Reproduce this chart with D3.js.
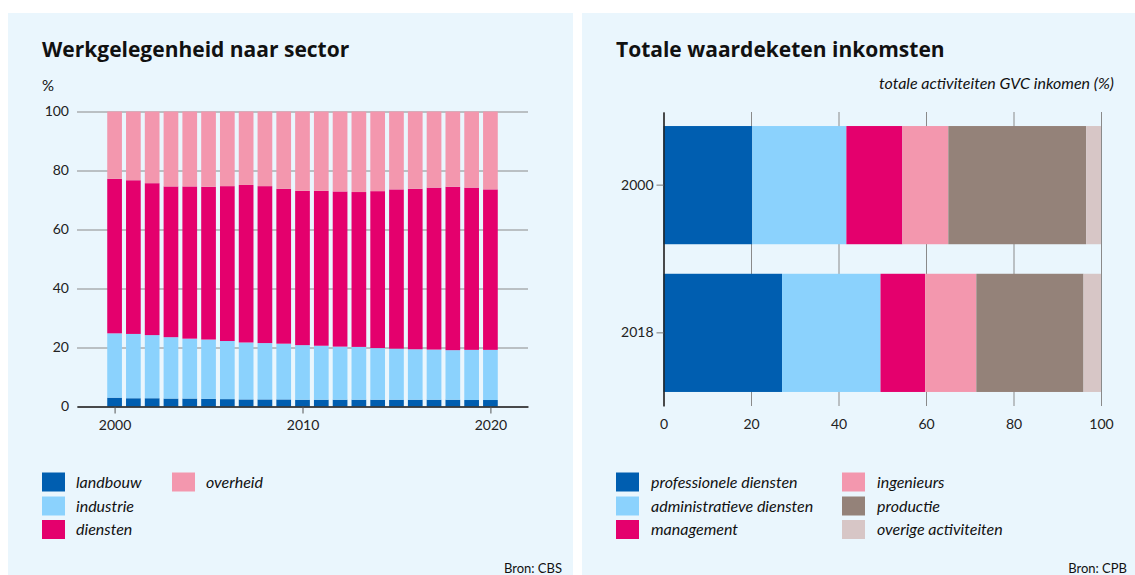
<!DOCTYPE html>
<html><head><meta charset="utf-8">
<script src="https://cdn.jsdelivr.net/npm/d3@7"></script>
<style>
body{margin:0;background:#fff;}
svg{display:block;font-family:Lato,"Open Sans",sans-serif;}
</style></head><body>
<svg id="c" width="1135" height="575"></svg>
<script>
// ---------- Data: left chart ----------
const years = [2000,2001,2002,2003,2004,2005,2006,2007,2008,2009,2010,2011,2012,2013,2014,2015,2016,2017,2018,2019,2020];
const landbouw  = [3.0,2.8,2.8,2.7,2.7,2.6,2.5,2.4,2.4,2.4,2.3,2.3,2.3,2.3,2.3,2.3,2.3,2.3,2.3,2.2,2.2];
const industrie = [21.8,21.8,21.4,20.8,20.3,20.1,19.7,19.3,19.1,18.9,18.5,18.3,18.0,17.9,17.5,17.3,17.1,17.0,16.8,17.0,17.0];
const diensten  = [52.4,52.1,51.5,51.1,51.6,51.8,52.5,53.4,53.2,52.5,52.3,52.5,52.6,52.5,53.2,54.0,54.4,54.9,55.4,55.0,54.4];
const overheid  = [22.8,23.3,24.3,25.4,25.4,25.5,25.3,24.9,25.3,26.2,26.9,26.9,27.1,27.3,27.0,26.4,26.2,25.8,25.5,25.8,26.4];
const sectorKeys = ["landbouw","industrie","diensten","overheid"];
const sectorColors = ["#005eb0","#8bd2fd","#e4006d","#f397ae"];
const yTicksLeft = [0,20,40,60,80,100];
const xTicksLeft = [2000,2010,2020];

// ---------- Data: right chart ----------
const gvcYears = ["2000","2018"];
const professioneleDiensten   = [20.3,27.1];
const administratieveDiensten = [21.5,22.5];
const management              = [12.8,10.2];
const ingenieurs              = [10.5,11.7];
const productie               = [31.5,24.5];
const overigeActiviteiten     = [3.4,4.0];
const gvcKeys = ["professionele diensten","administratieve diensten","management","ingenieurs","productie","overige activiteiten"];
const gvcColors = ["#005eb0","#8bd2fd","#e4006d","#f397ae","#948279","#d7c6c6"];
const xTicksRight = [0,20,40,60,80,100];

const svg = d3.select("#c");
const bg = "#eaf6fd";
svg.append("rect").attr("x",8).attr("y",13).attr("width",565).attr("height",562).attr("fill",bg);
svg.append("rect").attr("x",582).attr("y",13).attr("width",553).attr("height",562).attr("fill",bg);

const titleFont = "'Open Sans',Lato,sans-serif";

// ================= LEFT CHART =================
const L = svg.append("g");
L.append("text").attr("x",42).attr("y",57).attr("font-size",21).attr("font-weight",700).attr("font-family",titleFont).attr("fill","#111").text("Werkgelegenheid naar sector");
L.append("text").attr("x",42).attr("y",91).attr("font-size",15).attr("fill","#111").text("%");

const x1 = d3.scaleLinear().domain([1998,2022]).range([77,528]);
const y1 = d3.scaleLinear().domain([0,100]).range([406.5,111.5]);

const yAx = L.append("g").attr("transform","translate(77,0)")
  .call(d3.axisLeft(y1).tickValues(yTicksLeft).tickSize(-(528-77)).tickPadding(8));
yAx.select(".domain").remove();
yAx.selectAll("line").attr("stroke","#8a8a8a").attr("stroke-width",1);
yAx.selectAll("text").attr("font-size",14).attr("fill","#222").attr("font-family","Lato,sans-serif");

const rows = years.map((yr,i)=>({year:yr,landbouw:landbouw[i],industrie:industrie[i],diensten:diensten[i],overheid:overheid[i]}));
const stack1 = d3.stack().keys(sectorKeys)(rows);
const bw = 14.7;
L.append("g").selectAll("g").data(stack1).join("g")
  .attr("fill",(d,i)=>sectorColors[i])
  .selectAll("rect").data(d=>d).join("rect")
  .attr("x",d=>x1(d.data.year)-bw/2)
  .attr("width",bw)
  .attr("y",d=>y1(d[1]))
  .attr("height",d=>y1(d[0])-y1(d[1]));

const xAx = L.append("g").attr("transform","translate(0,406.5)")
  .call(d3.axisBottom(x1).tickValues(xTicksLeft).tickFormat(d3.format("d")).tickSizeInner(7).tickSizeOuter(0).tickPadding(7));
xAx.select(".domain").attr("stroke","#222").attr("stroke-width",1.5);
xAx.selectAll(".tick line").attr("stroke","#555");
xAx.selectAll("text").attr("font-size",14).attr("fill","#222").attr("font-family","Lato,sans-serif");

// legend left
const legL = L.append("g");
const legLPos = [[42,472.5],[42,496.5],[42,520],[172,472.5]];
sectorKeys.forEach((k,i)=>{
  const [lx,ly] = legLPos[i];
  legL.append("rect").attr("x",lx).attr("y",ly).attr("width",23).attr("height",19).attr("fill",sectorColors[i]);
  legL.append("text").attr("x",lx+34).attr("y",ly+15).attr("font-size",16).attr("font-style","italic").attr("fill","#111").text(k);
});
L.append("text").attr("x",562).attr("y",573).attr("text-anchor","end").attr("font-size",13).attr("fill","#111").text("Bron: CBS");

// ================= RIGHT CHART =================
const R = svg.append("g");
R.append("text").attr("x",616).attr("y",57).attr("font-size",21).attr("font-weight",700).attr("font-family",titleFont).attr("fill","#111").text("Totale waardeketen inkomsten");
R.append("text").attr("x",1114).attr("y",89).attr("text-anchor","end").attr("font-size",16).attr("font-style","italic").attr("fill","#111").text("totale activiteiten GVC inkomen (%)");

const x2 = d3.scaleLinear().domain([0,100]).range([663.5,1101]);
const y2 = d3.scaleBand().domain(gvcYears).range([112,406]).paddingInner(0.2).paddingOuter(0.095);

const xAx2 = R.append("g").attr("transform","translate(0,406)")
  .call(d3.axisBottom(x2).tickValues(xTicksRight).tickSizeInner(-(406-112)).tickSizeOuter(0).tickPadding(13));
xAx2.select(".domain").remove();
xAx2.selectAll(".tick line").attr("stroke","#8a8a8a");
xAx2.selectAll("text").attr("font-size",14).attr("fill","#222").attr("font-family","Lato,sans-serif");

const gvcRows = gvcYears.map((yr,i)=>({year:yr,
  "professionele diensten":professioneleDiensten[i],
  "administratieve diensten":administratieveDiensten[i],
  "management":management[i],
  "ingenieurs":ingenieurs[i],
  "productie":productie[i],
  "overige activiteiten":overigeActiviteiten[i]}));
const stack2 = d3.stack().keys(gvcKeys)(gvcRows);
R.append("g").selectAll("g").data(stack2).join("g")
  .attr("fill",(d,i)=>gvcColors[i])
  .selectAll("rect").data(d=>d).join("rect")
  .attr("y",d=>y2(d.data.year))
  .attr("height",y2.bandwidth())
  .attr("x",d=>x2(d[0]))
  .attr("width",d=>x2(d[1])-x2(d[0]));

const yAx2 = R.append("g").attr("transform","translate(663.5,0)")
  .call(d3.axisLeft(y2).tickSizeInner(7).tickSizeOuter(0).tickPadding(3));
yAx2.select(".domain").attr("stroke","#222").attr("stroke-width",1.5);
yAx2.selectAll(".tick line").attr("stroke","#777");
yAx2.selectAll("text").attr("font-size",14).attr("fill","#222").attr("font-family","Lato,sans-serif");

// legend right
const legR = R.append("g");
const legRPos = [[616,472.5],[616,496.5],[616,520],[842,472.5],[842,496.5],[842,520]];
gvcKeys.forEach((k,i)=>{
  const [lx,ly] = legRPos[i];
  legR.append("rect").attr("x",lx).attr("y",ly).attr("width",23).attr("height",19).attr("fill",gvcColors[i]);
  legR.append("text").attr("x",lx+35).attr("y",ly+15).attr("font-size",16).attr("font-style","italic").attr("fill","#111").text(k);
});
R.append("text").attr("x",1127).attr("y",573).attr("text-anchor","end").attr("font-size",13).attr("fill","#111").text("Bron: CPB");
</script>
</body></html>
